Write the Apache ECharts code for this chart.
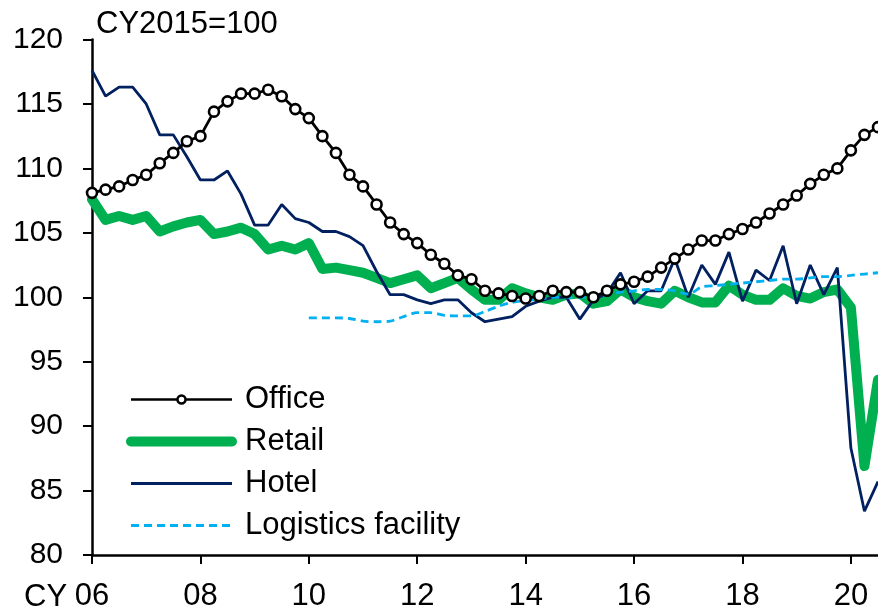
<!DOCTYPE html>
<html>
<head>
<meta charset="utf-8">
<script src="https://cdn.jsdelivr.net/npm/echarts@6/dist/echarts.min.js"></script>
<style>
  html, body { margin: 0; padding: 0; background: #fff; }
  #chart { width: 878px; height: 614px; }
</style>
</head>
<body>
<div id="chart"></div>
<script>
// quarterly, CY2006Q1 .. CY2020Q3
const years = ['06', '07', '08', '09', '10', '11', '12', '13', '14', '15', '16', '17', '18', '19', '20'];
const quarters = [];
years.forEach(y => ['Q1', 'Q2', 'Q3', 'Q4'].forEach(q => quarters.push(y + q)));
quarters.length = 59;

const office = [
  108.1, 108.35, 108.6, 109.1, 109.5, 110.4, 111.2, 112.1,
  112.5, 114.4, 115.2, 115.8, 115.8, 116.1, 115.6, 114.6,
  113.9, 112.5, 111.2, 109.5, 108.6, 107.2, 105.8, 104.9,
  104.2, 103.3, 102.6, 101.7, 101.4, 100.5, 100.3, 100.1,
  99.9, 100.1, 100.5, 100.4, 100.4, 100.0, 100.5, 101.0,
  101.2, 101.6, 102.3, 103.0, 103.7, 104.4, 104.4, 104.9,
  105.3, 105.8, 106.5, 107.2, 107.9, 108.8, 109.5, 110.0,
  111.4, 112.6, 113.2
];
const retail = [
  107.6, 106.0, 106.3, 106.0, 106.3, 105.1, 105.5, 105.8,
  106.0, 104.9, 105.1, 105.4, 104.9, 103.7, 104.0, 103.7,
  104.2, 102.2, 102.3, 102.1, 101.9, 101.5, 101.1, 101.4,
  101.7, 100.7, 101.1, 101.5, 100.6, 99.8, 99.8, 100.7,
  100.3, 100.0, 99.8, 100.2, 100.3, 99.5, 99.7, 100.6,
  100.0, 99.7, 99.5, 100.5, 100.0, 99.6, 99.6, 100.9,
  100.2, 99.8, 99.8, 100.7, 100.1, 99.9, 100.4, 100.6,
  99.2, 86.9, 93.6
];
const hotel = [
  117.6, 115.6, 116.3, 116.3, 115.0, 112.6, 112.6, 110.9,
  109.1, 109.1, 109.8, 108.0, 105.6, 105.6, 107.2, 106.1,
  105.8, 105.1, 105.1, 104.7, 104.0, 102.0, 100.2, 100.2,
  99.8, 99.5, 99.8, 99.8, 98.8, 98.1, 98.3, 98.5,
  99.3, 99.7, 100.0, 100.0, 98.3, 99.8, 100.3, 101.9,
  99.5, 100.5, 100.5, 103.0, 100.0, 102.5, 101.0, 103.5,
  99.7, 102.1, 101.3, 104.0, 99.5, 102.5, 100.2, 102.3,
  88.3, 83.4, 85.7
];
// starts CY2010Q1
const logistics = [
  null, null, null, null, null, null, null, null,
  null, null, null, null, null, null, null, null,
  98.4, 98.4, 98.4, 98.35, 98.15, 98.1, 98.15, 98.5,
  98.8, 98.8, 98.6, 98.55, 98.55, 98.9, 99.3, 99.6,
  99.75, 99.85, 100.0, 100.0, 100.0, 100.05, 100.2, 100.4,
  100.5, 100.6, 100.6, 100.5, 100.25, 100.8, 100.9, 101.0,
  101.1, 101.2, 101.3, 101.4, 101.4, 101.5, 101.6, 101.6,
  101.7, 101.8, 101.9
];

const font = 'Liberation Sans, Arial, sans-serif';
const chart = echarts.init(document.getElementById('chart'));

chart.setOption({
  animation: false,
  textStyle: { fontFamily: font, color: '#000' },
  title: {
    text: 'CY2015=100',
    left: 91,
    top: 4,
    textStyle: { fontFamily: font, fontSize: 31, fontWeight: 'normal', color: '#000' }
  },
  graphic: [{
    type: 'text',
    left: 24,
    top: 582,
    style: { text: 'CY', font: '31px "Liberation Sans"', fill: '#000' }
  }],
  grid: { left: 92, right: 0, top: 39.5, bottom: 59, containLabel: false },
  legend: {
    data: [
      { name: 'Office', itemStyle: { borderWidth: 2.5 }, lineStyle: { width: 2.5 } },
      { name: 'Retail', itemStyle: { opacity: 0 }, lineStyle: { width: 10, cap: 'round' } },
      { name: 'Hotel', itemStyle: { opacity: 0 }, lineStyle: { width: 2.8 } },
      { name: 'Logistics facility', itemStyle: { opacity: 0 }, lineStyle: { width: 2.8 } }
    ],
    orient: 'vertical',
    left: 121,
    top: 379,
    itemWidth: 101,
    itemHeight: 10,
    itemGap: 11,
    textStyle: { fontFamily: font, fontSize: 31, color: '#000', lineHeight: 30, padding: [0, 0, 0, 8] }
  },
  xAxis: {
    type: 'category',
    data: quarters,
    boundaryGap: false,
    axisLine: { lineStyle: { color: '#000', width: 2.5 } },
    axisTick: { interval: 7, length: 9, lineStyle: { color: '#000', width: 2 } },
    axisLabel: {
      interval: 7,
      margin: 26,
      fontFamily: font,
      fontSize: 31,
      color: '#000',
      formatter: v => v.slice(0, 2)
    },
    splitLine: { show: false }
  },
  yAxis: {
    type: 'value',
    min: 80,
    max: 120,
    interval: 5,
    axisLine: { show: true, lineStyle: { color: '#000', width: 2.5 } },
    axisTick: { show: true, length: 9, lineStyle: { color: '#000', width: 2 } },
    axisLabel: { margin: 29, fontFamily: font, fontSize: 30, color: '#000' },
    splitLine: { show: false }
  },
  series: [
    {
      name: 'Retail',
      type: 'line',
      data: retail,
      symbol: 'none',
      lineStyle: { color: '#00B050', width: 10, cap: 'round', join: 'round' },
      itemStyle: { color: '#00B050' }
    },
    {
      name: 'Hotel',
      type: 'line',
      data: hotel,
      symbol: 'none',
      lineStyle: { color: '#002060', width: 2.8 },
      itemStyle: { color: '#002060' }
    },
    {
      name: 'Logistics facility',
      type: 'line',
      data: logistics,
      symbol: 'none',
      smooth: 0.3,
      lineStyle: { color: '#00B0F0', width: 2.8, type: [8, 5] },
      itemStyle: { color: '#00B0F0' }
    },
    {
      name: 'Office',
      type: 'line',
      data: office,
      symbol: 'circle',
      symbolSize: 10,
      showAllSymbol: true,
      lineStyle: { color: '#000', width: 2.8 },
      itemStyle: { color: '#fff', borderColor: '#000', borderWidth: 2.6 }
    }
  ]
});
</script>
</body>
</html>
